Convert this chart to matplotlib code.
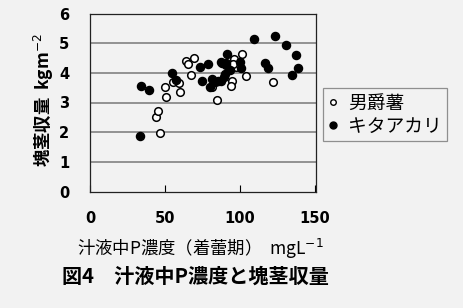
import numpy as np
import matplotlib
matplotlib.use('Agg')
import matplotlib.pyplot as plt
from matplotlib.lines import Line2D

plt.rcParams['font.family'] = ['Noto Sans CJK JP', 'DejaVu Sans']

# 男爵薯 (open circles)
danshaku_x = [46.7, 44.4, 45.6, 51.1, 50.0, 55.6, 59.6, 60.4, 64.4, 65.6, 69.3,
              67.8, 81.3, 85.1, 94.7, 94.4, 96.2, 97.6, 101.6, 104.0, 122.2, 95.5]
danshaku_y = [1.96, 2.52, 2.72, 3.20, 3.53, 3.68, 3.66, 3.37, 4.39, 4.29, 4.50,
              3.93, 3.53, 3.09, 3.74, 3.56, 4.48, 4.20, 4.65, 3.89, 3.69, 4.30]

# キタアカリ (filled circles)
kita_x = [33.8, 39.1, 33.3, 54.9, 57.3, 73.3, 79.1, 75.1, 81.8, 85.6, 87.8,
          89.3, 87.8, 91.8, 90.7, 93.3, 100.0, 101.1, 109.6, 123.3, 131.1,
          137.8, 138.7, 134.7, 116.9, 118.7, 91.1, 88.4, 80.0, 83.5, 90.5]
kita_y = [3.56, 3.41, 1.88, 4.01, 3.75, 4.21, 4.29, 3.72, 3.78, 3.72, 3.72,
          3.87, 4.35, 4.65, 4.26, 4.09, 4.37, 4.15, 5.13, 5.24, 4.93,
          4.60, 4.17, 3.92, 4.32, 4.17, 4.32, 4.32, 3.53, 3.70, 3.95]

x_ticks = [0, 50, 100, 150]
y_ticks = [0, 1, 2, 3, 4, 5, 6]

fig = plt.figure(figsize=(4.63, 3.08), dpi=100)
fig.patch.set_facecolor('#f2f2f2')
ax = fig.add_axes([90 / 463, 1 - 191.5 / 308, 226 / 463, 178 / 308])
ax.set_facecolor('#f2f2f2')

for yv in y_ticks[1:-1]:
    ax.axhline(yv, color='#8a8a8a', lw=1.3, zorder=1)

ax.scatter(danshaku_x, danshaku_y, s=30, facecolors='white', edgecolors='black',
           linewidths=1.1, zorder=3)
ax.scatter(kita_x, kita_y, s=34, color='black', zorder=4)

ax.set_xlim(0, 151)
ax.set_ylim(0, 6)
ax.set_xticks(x_ticks)
ax.set_yticks(y_ticks)
ax.tick_params(axis='x', direction='in', length=5, width=0.8, pad=14, labelsize=10.5)
ax.tick_params(axis='y', length=0, pad=15, labelsize=10.5)
for lab in ax.get_xticklabels() + ax.get_yticklabels():
    lab.set_fontweight('bold')
    lab.set_family('DejaVu Sans')
for sp in ax.spines.values():
    sp.set_linewidth(0.9)
    sp.set_color('#222222')

fig.text(44 / 463, 1 - 100 / 308, '塊茎収量  kgm$^{-2}$', rotation=90,
         ha='center', va='center', fontsize=12.5, fontweight='bold')
fig.text(200 / 463, 1 - 249 / 308, '汁液中P濃度（着蕾期）  mgL$^{-1}$',
         ha='center', va='center', fontsize=12.5)
fig.text(62 / 463, 1 - 276 / 308, '図4　汁液中P濃度と塊茎収量',
         ha='left', va='center', fontsize=14.5, fontweight='bold')

handles = [
    Line2D([], [], ls='none', marker='o', markersize=4, markerfacecolor='white',
           markeredgecolor='black', markeredgewidth=1.0, label='男爵薯'),
    Line2D([], [], ls='none', marker='o', markersize=5, color='black',
           label='キタアカリ'),
]
leg = fig.legend(handles=handles, loc='upper left',
                 bbox_to_anchor=(323 / 463, 1 - 88 / 308), borderaxespad=0,
                 fontsize=13.5, frameon=True, fancybox=False, handlelength=0.6,
                 handletextpad=0.5, borderpad=0.25, labelspacing=0.1)
leg.get_frame().set_edgecolor('#777777')
leg.get_frame().set_linewidth(0.9)
leg.get_frame().set_facecolor('#f2f2f2')

fig.savefig('out.png', dpi=100, facecolor=fig.get_facecolor())
